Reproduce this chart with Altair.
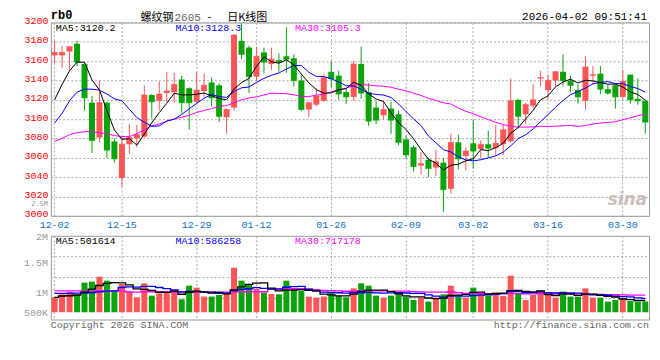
import altair as alt
import pandas as pd

# ---------------- data ----------------
dates = ["12-02", "12-03", "12-04", "12-05", "12-08", "12-09", "12-10", "12-11", "12-12", "12-15",
         "12-16", "12-17", "12-18", "12-19", "12-22", "12-23", "12-24", "12-25", "12-26", "12-29",
         "12-30", "12-31", "01-05", "01-06", "01-07", "01-08", "01-09", "01-12", "01-13", "01-14",
         "01-15", "01-16", "01-19", "01-20", "01-21", "01-22", "01-23", "01-26", "01-27", "01-28",
         "01-29", "01-30", "02-02", "02-03", "02-04", "02-05", "02-06", "02-09", "02-10", "02-11",
         "02-12", "02-13", "02-24", "02-25", "02-26", "02-27", "03-02", "03-03", "03-04", "03-05",
         "03-06", "03-09", "03-10", "03-11", "03-12", "03-13", "03-16", "03-17", "03-18", "03-19",
         "03-20", "03-23", "03-24", "03-25", "03-26", "03-27", "03-30", "03-31", "04-01", "04-02"]

label_dates = ["12-02", "12-15", "12-29", "01-12", "01-26", "02-09", "03-02", "03-16", "03-30"]

opens = [3166, 3166, 3170, 3178, 3157, 3117, 3081, 3117, 3077, 3039,
         3074, 3080, 3082, 3125, 3119, 3127, 3128, 3141, 3132, 3118,
         3129, 3138, 3135, 3102, 3112, 3181, 3174, 3144, 3169, 3157,
         3161, 3165, 3163, 3140, 3110, 3115, 3119, 3149, 3145, 3128,
         3123, 3157, 3128, 3112, 3104, 3111, 3105, 3079, 3071, 3052,
         3058, 3050, 3055, 3028, 3076, 3062, 3075, 3069, 3074, 3070,
         3074, 3077, 3120, 3105, 3114, 3142, 3130, 3140, 3149, 3140,
         3130, 3119, 3145, 3147, 3131, 3135, 3123, 3146, 3121, 3119]

highs = [3181, 3176, 3175, 3181, 3158, 3124, 3140, 3118, 3080, 3082,
         3095, 3094, 3135, 3126, 3139, 3149, 3148, 3145, 3133, 3149,
         3147, 3143, 3137, 3111, 3188, 3199, 3176, 3175, 3174, 3174,
         3168, 3195, 3167, 3146, 3118, 3132, 3147, 3160, 3150, 3131,
         3160, 3175, 3137, 3119, 3118, 3118, 3109, 3083, 3073, 3066,
         3060, 3068, 3060, 3085, 3084, 3071, 3099, 3078, 3088, 3094,
         3094, 3142, 3121, 3117, 3136, 3150, 3146, 3150, 3167, 3145,
         3136, 3165, 3155, 3155, 3136, 3136, 3151, 3146, 3142, 3120]

lows = [3158, 3153, 3151, 3155, 3109, 3065, 3076, 3060, 3055, 3030,
        3064, 3071, 3081, 3101, 3109, 3118, 3117, 3106, 3089, 3117,
        3123, 3113, 3097, 3085, 3109, 3162, 3127, 3139, 3147, 3151,
        3149, 3148, 3134, 3108, 3102, 3113, 3118, 3133, 3120, 3116,
        3119, 3121, 3093, 3095, 3099, 3085, 3073, 3059, 3046, 3043,
        3040, 3041, 3004, 3023, 3048, 3047, 3049, 3059, 3060, 3062,
        3063, 3076, 3092, 3095, 3111, 3134, 3121, 3134, 3134, 3128,
        3116, 3110, 3136, 3126, 3125, 3111, 3120, 3116, 3115, 3085]

closes = [3169, 3169, 3175, 3159, 3122, 3078, 3117, 3068, 3059, 3074,
          3081, 3084, 3125, 3118, 3126, 3129, 3136, 3117, 3117, 3130,
          3135, 3122, 3103, 3110, 3187, 3167, 3144, 3165, 3159, 3162,
          3159, 3162, 3140, 3110, 3117, 3124, 3143, 3142, 3126, 3123,
          3157, 3127, 3098, 3099, 3110, 3099, 3076, 3063, 3051, 3054,
          3049, 3056, 3027, 3076, 3059, 3067, 3067, 3074, 3070, 3075,
          3089, 3119, 3103, 3115, 3120, 3143, 3140, 3149, 3140, 3135,
          3123, 3154, 3146, 3131, 3127, 3123, 3139, 3120, 3119, 3097]

volumes = [635000, 761000, 876000, 732000, 1256000, 1299000, 1510000, 1341000, 901000, 1197000,
           876000, 635000, 1227000, 706000, 804000, 846000, 918000, 550000, 1129000, 1045000,
           664000, 664000, 732000, 774000, 1891000, 1341000, 1184000, 986000, 833000, 774000,
           761000, 1341000, 986000, 918000, 664000, 622000, 664000, 833000, 706000, 635000,
           1015000, 1227000, 1129000, 706000, 622000, 706000, 761000, 664000, 520000, 622000,
           453000, 622000, 761000, 1129000, 664000, 622000, 1045000, 804000, 706000, 833000,
           689000, 1552000, 833000, 520000, 732000, 918000, 761000, 622000, 876000, 664000,
           664000, 1015000, 622000, 622000, 453000, 520000, 592000, 478000, 453000, 453000]

# moving-average values at the left edge (they depend on sessions before 12-02)
ma5_head = [3120, 3136, 3150, 3159]
ma10_head = [3096, 3106, 3119, 3128, 3131, 3131, 3130, 3126, 3121]
ma30_head = [3077, 3080, 3084, 3086, 3087, 3087, 3086, 3085, 3083, 3082,
             3082, 3085, 3089, 3093, 3095, 3098, 3100, 3102, 3104, 3107,
             3109, 3111, 3113, 3114, 3117, 3120, 3122, 3123, 3125]
vma5_head = [635000, 690000, 700000, 733000]
vma10_head = [805000, 805000, 805000, 810000, 815000, 830000, 870000, 900000, 905000]
vma30_head = [905000, 905000, 905000, 905000, 905000, 905000, 910000, 910000, 910000, 910000,
              860000, 850000, 870000, 870000, 870000, 870000, 870000, 850000, 850000, 850000,
              850000, 850000, 850000, 850000, 870000, 870000, 870000, 870000, 870000]


def moving(values, window, head):
    s = pd.Series(values, dtype=float).rolling(window).mean().tolist()
    return list(head) + s[len(head):]


df = pd.DataFrame({
    "i": list(range(len(dates))), "d": dates,
    "open": opens, "high": highs, "low": lows, "close": closes, "vol": volumes,
})
df["dir"] = ["up" if c >= o else "down" for o, c in zip(opens, closes)]
df["ma5"] = moving(closes, 5, ma5_head)
df["ma10"] = moving(closes, 10, ma10_head)
df["ma30"] = moving(closes, 30, ma30_head)
df["vma5"] = moving(volumes, 5, vma5_head)
df["vma10"] = moving(volumes, 10, vma10_head)
df["vma30"] = moving(volumes, 30, vma30_head)

# ---------------- styling ----------------
RED = "#fa5656"
GREEN = "#0aa40a"
GRID = "#a9a9a9"
MONO = "Liberation Mono"
CJK = "Noto Sans CJK SC"
W, H_PRICE, H_VOL = 600, 194, 84

xscale = alt.Scale(domain=dates, paddingInner=0, paddingOuter=0)
color_enc = alt.Color("dir:N", scale=alt.Scale(domain=["up", "down"], range=[RED, GREEN]), legend=None)

x_price = alt.X("d:O", scale=xscale, axis=alt.Axis(
    values=label_dates, title=None, labelAngle=0, labelColor="#0b72c6", labelFont=MONO,
    labelFontSize=10, labelPadding=4, labelBaseline="top", ticks=False, tickSize=0, domain=False,
    grid=True, gridColor=GRID, gridDash=[2, 2], gridWidth=1, bandPosition=0.5, labelOverlap=False))

x_vol = alt.X("d:O", scale=xscale, axis=alt.Axis(
    values=label_dates, title=None, labels=False, ticks=False, tickSize=0, domain=False,
    grid=True, gridColor=GRID, gridDash=[2, 2], gridWidth=1, bandPosition=0.5))

yscale = alt.Scale(domain=[3000, 3200], nice=False, zero=False)
yaxis = alt.Axis(values=list(range(3000, 3201, 20)), format="d", title=None, labelColor="#ff0000",
                 labelFont=MONO, labelFontSize=10, labelPadding=3, labelOffset=-2, ticks=False,
                 tickSize=0, domain=False, grid=True, gridColor=GRID, gridDash=[2, 2], gridWidth=1,
                 labelFlush=False, labelOverlap=False)

vscale = alt.Scale(domain=[-309000, 3244000], nice=False, zero=False)

one = pd.DataFrame({"k": [0]})


def txt(s, x, y, color="#000000", size=10, font=MONO, align="left", baseline="middle",
        weight="normal", style="normal"):
    return alt.Chart(one).mark_text(
        text=s, align=align, baseline=baseline, color=color, fontSize=size, font=font,
        fontWeight=weight, fontStyle=style
    ).encode(x=alt.value(x), y=alt.value(y))


def hrule(y):
    return alt.Chart(one).mark_rule(color=GRID, strokeDash=[2, 2], strokeWidth=1).encode(
        x=alt.value(0), x2=alt.value(W), y=alt.value(y))


base = alt.Chart(df)

# ---------------- price panel ----------------
wick = base.mark_rule(strokeWidth=1).encode(
    x=x_price, y=alt.Y("low:Q", scale=yscale, axis=yaxis), y2="high:Q", color=color_enc)
body = base.mark_bar(size=6).encode(
    x=x_price, y=alt.Y("open:Q", scale=yscale, axis=yaxis), y2="close:Q", color=color_enc)
doji = base.mark_tick(size=6, thickness=1).encode(
    x=x_price, y=alt.Y("close:Q", scale=yscale, axis=yaxis), color=color_enc)
ma_lines = [
    base.mark_line(color=c, strokeWidth=1).encode(
        x=x_price, y=alt.Y(f"{f}:Q", scale=yscale, axis=yaxis), order="i:Q")
    for f, c in [("ma30", "#ff00ff"), ("ma10", "#0000ff"), ("ma5", "#000000")]
]

price = alt.layer(
    wick, body, doji, *ma_lines,
    txt("sina", W - 2, 178, color="#cbbfbf", size=17, font="DejaVu Sans", align="right",
        weight="bold", style="italic"),
    txt("rb0", 0, -12, size=12, weight="bold", baseline="top"),
    txt("螺纹钢", 90, -10, size=11, font=CJK, baseline="top"),
    txt("2605", 124, -10, color="#666666", size=11, baseline="top"),
    txt("-", 157, -10, size=11, font=CJK, baseline="top"),
    txt("日K线图", 177, -10, size=11, font=CJK, baseline="top"),
    txt("2026-04-02 09:51:41", W - 2, -11, size=11, align="right", baseline="top"),
    txt("MA5:3120.2", 5, 6),
    txt("MA10:3128.3", 125, 6, color="#0000ff"),
    txt("MA30:3105.3", 245, 6, color="#ff00ff"),
    txt("2.5M", -3, 182.3, color="#999999", size=7, align="right"),
).properties(width=W, height=H_PRICE)

# ---------------- volume panel ----------------
vbars = base.mark_bar(size=6).encode(
    x=x_vol, y=alt.Y("vol:Q", scale=vscale, axis=None), y2=alt.datum(0), color=color_enc)
vma_lines = [
    base.mark_line(color=c, strokeWidth=1.3, interpolate="step").encode(
        x=x_vol, y=alt.Y(f"{f}:Q", scale=vscale, axis=None), order="i:Q")
    for f, c in [("vma30", "#ff00ff"), ("vma10", "#0000ff"), ("vma5", "#000000")]
]

volume = alt.layer(
    hrule(21), hrule(42), hrule(63),
    vbars, *vma_lines,
    txt("MA5:501614", 5, 5),
    txt("MA10:586258", 125, 5, color="#0000ff"),
    txt("MA30:717178", 245, 5, color="#ff00ff"),
    txt("2M", -3, 1.5, color="#999999", align="right"),
    txt("1.5M", -3, 27, color="#999999", align="right"),
    txt("1M", -3, 57, color="#999999", align="right"),
    txt("500K", -3, 77, color="#999999", align="right"),
    txt("Copyright 2026 SINA.COM", 0, 89, color="#666666"),
    txt("http://finance.sina.com.cn", W, 89, color="#666666", align="right"),
).properties(width=W, height=H_VOL)

chart = alt.vconcat(price, volume, spacing=20, bounds="flush").resolve_scale(
    x="shared", y="independent", color="shared"
).resolve_axis(x="independent", y="independent").properties(
    padding={"left": 15, "top": 0, "right": 2, "bottom": 2}
).configure_view(stroke="#999999", strokeWidth=1)

chart.save("out.html", embed_options={"renderer": "svg", "actions": False})
